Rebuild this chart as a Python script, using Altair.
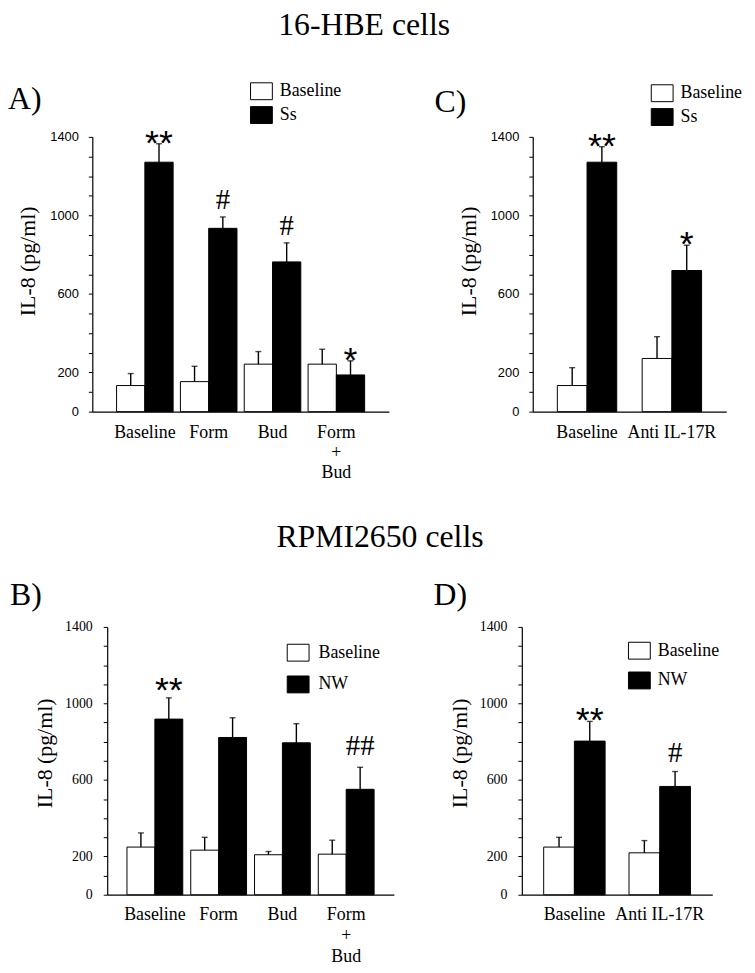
import altair as alt
import pandas as pd

SERIF = "Liberation Serif"
SANS = "Liberation Sans"

# ---------------- data ----------------
# Panel A: 16-HBE cells
a_groups = ["Baseline", "Form", "Bud", "Form + Bud"]
a_base = [133, 153, 242, 242]
a_base_upper = [194, 231, 306, 318]
a_stim = [1271, 934, 763, 187]
a_stim_upper = [1365, 992, 860, 259]
a_sig = ["**", "#", "#", "*"]

# Panel C: 16-HBE cells, anti IL-17R
c_groups = ["Baseline", "Anti IL-17R"]
c_base = [133, 271]
c_base_upper = [224, 382]
c_stim = [1271, 719]
c_stim_upper = [1350, 848]
c_sig = ["**", "*"]

# Panel B: RPMI2650 cells
b_groups = ["Baseline", "Form", "Bud", "Form + Bud"]
b_base = [249, 233, 209, 212]
b_base_upper = [323, 300, 226, 285]
b_stim = [918, 822, 794, 551]
b_stim_upper = [1029, 925, 894, 666]
b_sig = ["**", "", "", "##"]

# Panel D: RPMI2650 cells, anti IL-17R
d_groups = ["Baseline", "Anti IL-17R"]
d_base = [249, 219]
d_base_upper = [300, 283]
d_stim = [803, 566]
d_stim_upper = [906, 644]
d_sig = ["**", "#"]

y_tick_values = list(range(0, 1500, 100))
y_label_values = [0, 200, 600, 1000, 1400]


def make_df(groups, base, base_upper, stim, stim_upper, sig, stim_name):
    rows = []
    for g, v, u in zip(groups, base, base_upper):
        rows.append({"group": g, "series": "Baseline", "value": v, "upper": u, "sig": ""})
    for g, v, u, s in zip(groups, stim, stim_upper, sig):
        rows.append({"group": g, "series": stim_name, "value": v, "upper": u, "sig": s})
    return pd.DataFrame(rows)


def text_layer(txt, x, y, size=32, align="left"):
    return alt.Chart(pd.DataFrame({"t": [txt]})).mark_text(
        font=SERIF, fontSize=size, align=align, baseline="alphabetic", color="black"
    ).encode(text="t:N", x=alt.value(x), y=alt.value(y))


def panel(df, groups, stim_name, width, height, x_range, pad_inner, pad_outer,
          tick_font, tick_font_size, ylabel_pad, ytitle_pad, ytitle_y,
          legend_x, legend_y, legend_row_pad, legend_label_offset,
          letter, letter_x, letter_y, heading=None, heading_x=0, heading_y=0,
          ast_gap=5, hash_gap=8, line_height=20, xlabel_pad=12):
    series = ["Baseline", stim_name]
    label_expr = "datum.value == 'Form + Bud' ? ['Form', '+', 'Bud'] : datum.value"
    x_axis = alt.Axis(
        title=None, labelAngle=0, labelFont=SERIF, labelFontSize=18, labelColor="black",
        labelPadding=xlabel_pad, ticks=False, tickSize=0, domainColor="black", domainWidth=1.2,
        labelExpr=label_expr, labelLineHeight=line_height, labelOverlap=False,
        labelBound=False, labelFlush=False, labelLimit=300,
    )
    lbl_test = " || ".join(f"datum.value == {v}" for v in y_label_values)
    y_axis = alt.Axis(
        title="IL-8 (pg/ml)", values=y_tick_values, format="d",
        labelExpr=f"({lbl_test}) ? datum.label : ''",
        labelFont=tick_font, labelFontSize=tick_font_size, labelColor="black",
        labelPadding=ylabel_pad, tickColor="black", tickSize=4, tickWidth=1,
        domainColor="black", domainWidth=1.2, grid=False,
        titleFont=SERIF, titleFontSize=22, titleFontWeight="normal", titleColor="black",
        titlePadding=ytitle_pad, titleY=ytitle_y, labelOverlap=False, offset=-x_range[0],
    )
    x = alt.X("group:N", sort=groups,
              scale=alt.Scale(type="band", domain=groups, range=list(x_range),
                              paddingInner=pad_inner, paddingOuter=pad_outer),
              axis=x_axis)
    xo = alt.XOffset("series:N", sort=series,
                     scale=alt.Scale(type="band", domain=series,
                                     paddingInner=0, paddingOuter=0))
    yscale = alt.Scale(domain=[0, 1400], nice=False, zero=True)
    legend = alt.Legend(
        title=None, orient="none", legendX=legend_x, legendY=legend_y, direction="vertical",
        symbolType="M-1,-0.773H1V0.773H-1Z", symbolSize=484, symbolStrokeColor="black",
        symbolStrokeWidth=1, symbolOpacity=1, labelFont=SERIF, labelFontSize=18,
        labelColor="black", rowPadding=legend_row_pad, labelOffset=legend_label_offset,
        padding=0,
    )
    base = alt.Chart(df)
    bars = base.mark_bar(stroke="black", strokeWidth=1, opacity=1).encode(
        x=x, xOffset=xo,
        y=alt.Y("value:Q", scale=yscale, axis=y_axis),
        color=alt.Color("series:N", scale=alt.Scale(domain=series, range=["white", "black"]),
                        legend=legend),
    )
    rules = base.mark_rule(color="black", strokeWidth=1.4).encode(
        x=x, xOffset=xo,
        y=alt.Y("value:Q", scale=yscale, axis=y_axis),
        y2="upper:Q",
    )
    caps = base.mark_tick(color="black", thickness=1.4, size=6).encode(
        x=x, xOffset=xo,
        y=alt.Y("upper:Q", scale=yscale, axis=y_axis),
    )
    ast = base.transform_filter("indexof(datum.sig, '*') >= 0").mark_text(
        font=SANS, fontSize=36, align="center", baseline="alphabetic", color="black",
        dy=16 - ast_gap,
    ).encode(x=x, xOffset=xo, y=alt.Y("upper:Q", scale=yscale, axis=y_axis), text="sig:N")
    hsh = base.transform_filter("indexof(datum.sig, '#') >= 0").mark_text(
        font=SERIF, fontSize=29, align="center", baseline="alphabetic", color="black",
        dy=-hash_gap,
    ).encode(x=x, xOffset=xo, y=alt.Y("upper:Q", scale=yscale, axis=y_axis), text="sig:N")
    layers = [bars, rules, caps, ast, hsh, text_layer(letter, letter_x, letter_y)]
    if heading:
        layers.append(text_layer(heading, heading_x, heading_y, align="center"))
    return alt.layer(*layers).properties(width=width, height=height)


dfA = make_df(a_groups, a_base, a_base_upper, a_stim, a_stim_upper, a_sig, "Ss")
dfC = make_df(c_groups, c_base, c_base_upper, c_stim, c_stim_upper, c_sig, "Ss")
dfB = make_df(b_groups, b_base, b_base_upper, b_stim, b_stim_upper, b_sig, "NW")
dfD = make_df(d_groups, d_base, d_base_upper, d_stim, d_stim_upper, d_sig, "NW")

# column 1 views start at x=93, column 2 views start at x=526
pA = panel(dfA, a_groups, "Ss", 299, 277, (0, 299), 0.114, 0.38, SANS, 13, 10, 10, 125,
           159, -57.5, 1, 7, "A)", -85, -28,
           heading="16-HBE cells", heading_x=274, heading_y=-103,
           ast_gap=5, hash_gap=8, line_height=20, xlabel_pad=12)
pC = panel(dfC, c_groups, "Ss", 206, 277, (11, 206), 0.30, 0.29, SANS, 13, 10, 10, 125,
           130, -55.5, 1, 7, "C)", -88, -25,
           ast_gap=5, hash_gap=8, line_height=20, xlabel_pad=12)
pB = panel(dfB, b_groups, "NW", 304, 270, (15, 304), 0.125, 0.31, SERIF, 14, 11, 8, 127,
           196, 14.5, 9, 9, "B)", -83, -22,
           heading="RPMI2650 cells", heading_x=290, heading_y=-81,
           ast_gap=12, hash_gap=12, line_height=21, xlabel_pad=11)
pD = panel(dfD, d_groups, "NW", 192, 270, (0, 192), 0.28, 0.256, SERIF, 14, 11, 8, 127,
           107, 12.5, 7, 7, "D)", -89, -22,
           ast_gap=5, hash_gap=10, line_height=21, xlabel_pad=11)

chart = alt.concat(
    pA, pC, pB, pD, columns=2, spacing={"row": 217, "column": 129}, bounds="flush"
).resolve_scale(color="independent", xOffset="independent").resolve_legend(
    color="independent").properties(
    padding={"left": 0, "top": -3, "right": 5, "bottom": 5},
    background="white",
).configure_view(stroke=None)

chart.save("out.html", embed_options={"renderer": "svg", "actions": False})
